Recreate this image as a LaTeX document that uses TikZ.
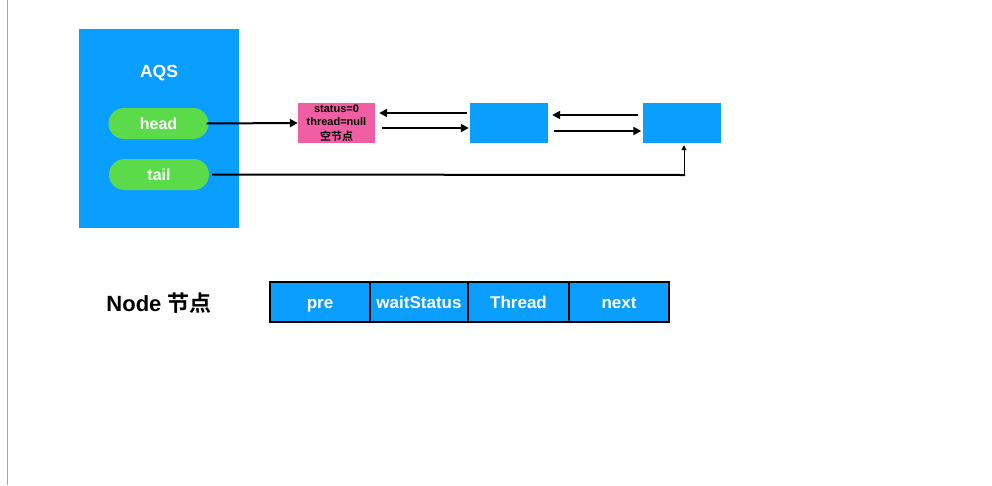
\documentclass[tikz,border=0pt]{standalone}
\usepackage{fontspec}
\setmainfont{Liberation Sans}
\newfontfamily\cjk{Noto Sans CJK SC}[BoldFont={* Bold}]
\usetikzlibrary{arrows.meta}
\definecolor{qblue}{HTML}{0A9FFF}
\definecolor{qgreen}{HTML}{5BDB4A}
\definecolor{qpink}{HTML}{F05FA3}
\tikzset{
  x=1pt,y=-1pt,
  arr/.style={-{Triangle[length=8pt,width=8pt]},line width=2pt},
  arrs/.style={-{Triangle[length=5pt,width=5pt]},line width=1pt},
  pill/.style={fill=qgreen,rounded corners=15.5pt,minimum width=100pt,minimum height=31pt,text=white,font=\bfseries\fontsize{16}{18}\selectfont,inner sep=0pt,text height=11.5pt,text depth=0pt},
  qnode/.style={fill=qblue,minimum width=78pt,minimum height=40pt,inner sep=0pt},
  cell/.style={fill=qblue,draw=black,line width=1.1pt,minimum height=40pt,inner sep=0pt,text=white,font=\bfseries\fontsize{17}{18}\selectfont,text height=12.5pt,text depth=0pt}
}
\begin{document}
\begin{tikzpicture}
\useasboundingbox[fill=white] (0,0) rectangle (992,485);
\draw[gray!70,line width=1pt] (7.5,0) -- (7.5,485);
% AQS box
\node[fill=qblue,minimum width=160pt,minimum height=199pt,inner sep=0pt] (aqs) at (159,128.5) {};
\node[text=white,font=\bfseries\fontsize{17.5}{19}\selectfont] (aqst) at (159,73) {AQS};
\node[pill] (head) at (158.5,123.5) {head};
\node[pill] (tail) at (159,174.5) {tail};
% nodes
\node[fill=qpink,minimum width=77pt,minimum height=40pt,inner sep=0pt,align=center,font=\bfseries\fontsize{11}{13}\selectfont] (n1) at (336.5,123) {status=0\\thread=null\\[2pt]{\cjk 空节点}};
\node[qnode] (n2) at (509,123) {};
\node[qnode] (n3) at (681.5,123) {};
% arrows
\draw[arr] ([xshift=-2pt]head.east) -- (n1.west);
\draw[arr] ([xshift=-3pt]n2.west |- 0,113) -- ([xshift=4pt]n1.east |- 0,113);
\draw[arr] ([xshift=7pt]n1.east |- 0,128) -- ([xshift=-1pt]n2.west |- 0,128);
\draw[arr] ([xshift=-4pt]n3.west |- 0,115) -- ([xshift=4pt]n2.east |- 0,115);
\draw[arr] ([xshift=6pt]n2.east |- 0,131) -- ([xshift=-1pt]n3.west |- 0,131);
\coordinate (tc) at (684,175);
\draw[line width=2pt] ([xshift=3pt]tail.east) -- ([xshift=1pt]tc);
\draw[arrs] (tc) -- ([yshift=-2pt]n3.south -| tc);
% Node table
\node[font=\bfseries\fontsize{22}{24}\selectfont] (nt) at (159,303) {Node {\cjk\bfseries 节点}};
\node[cell,minimum width=100pt] (c1) at (320,302) {pre};
\node[cell,minimum width=98pt] (c2) at (419,302) {waitStatus};
\node[cell,minimum width=101pt] (c3) at (518.5,302) {Thread};
\node[cell,minimum width=100pt] (c4) at (619,302) {next};
\end{tikzpicture}
\end{document}
